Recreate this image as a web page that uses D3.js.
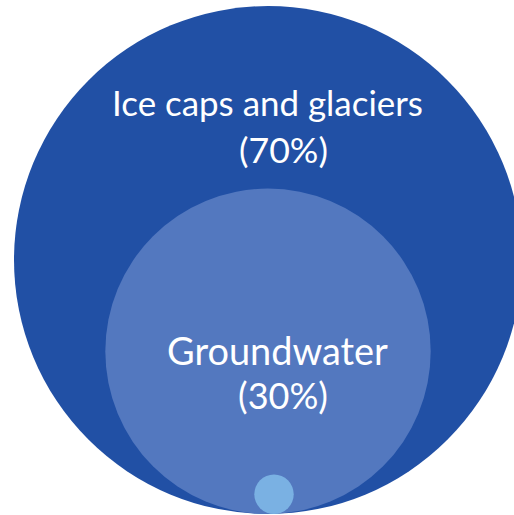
<!DOCTYPE html>
<html>
<head>
<meta charset="utf-8">
<script src="https://cdn.jsdelivr.net/npm/d3@7"></script>
<style>
  html, body { margin: 0; padding: 0; background: #ffffff; }
  svg { display: block; }
</style>
</head>
<body>
<script>
// Where the world's fresh water is held (share of total fresh water)
const categories = ["Ice caps and glaciers", "Groundwater", "Surface water"];
const shares = [70, 30, 0.1];
const labels = ["(70%)", "(30%)", ""];
const totalShare = 100;
const colors = ["#2150a5", "#5378bf", "#7ab1e3"];

const width = 514, height = 515;
const svg = d3.select("body").append("svg")
  .attr("width", width).attr("height", height);

// Nested bubbles, all resting on a common baseline
const r = d3.scalePow().exponent(0.37).domain([0, totalShare]).range([0, 254]);
const baseY = 514;
const cx = d3.scaleOrdinal().domain(categories).range([268, 268, 274]);

// Outer circle stands for the whole, labelled with the ice caps share
const circles = categories.map((c, i) => ({
  name: c,
  radius: i === 0 ? r(totalShare) : r(shares[i]),
  color: colors[i]
}));

svg.selectAll("circle")
  .data(circles)
  .join("circle")
  .attr("cx", d => cx(d.name))
  .attr("cy", d => baseY - d.radius)
  .attr("r", d => d.radius)
  .attr("fill", d => d.color);

const fontFamily = "Lato, 'Open Sans', sans-serif";
const textSpec = [
  { text: categories[0], x: 267.5, y: 115.5, w: 311 },
  { text: labels[0], x: 283.5, y: 163, w: 89 },
  { text: categories[1], x: 277.5, y: 365, w: 221 },
  { text: labels[1], x: 283, y: 409, w: 90 }
];

const baseSize = 34;
svg.selectAll("text.lbl")
  .data(textSpec)
  .join("text")
  .attr("class", "lbl")
  .attr("x", d => d.x)
  .attr("y", d => d.y)
  .attr("text-anchor", "middle")
  .attr("fill", "#ffffff")
  .attr("font-family", fontFamily)
  .attr("font-size", baseSize)
  .text(d => d.text)
  .each(function (d) {
    // size each line so it spans its intended width
    const len = this.getComputedTextLength();
    if (len > 0) d3.select(this).attr("font-size", baseSize * d.w / len);
  });
</script>
</body>
</html>
